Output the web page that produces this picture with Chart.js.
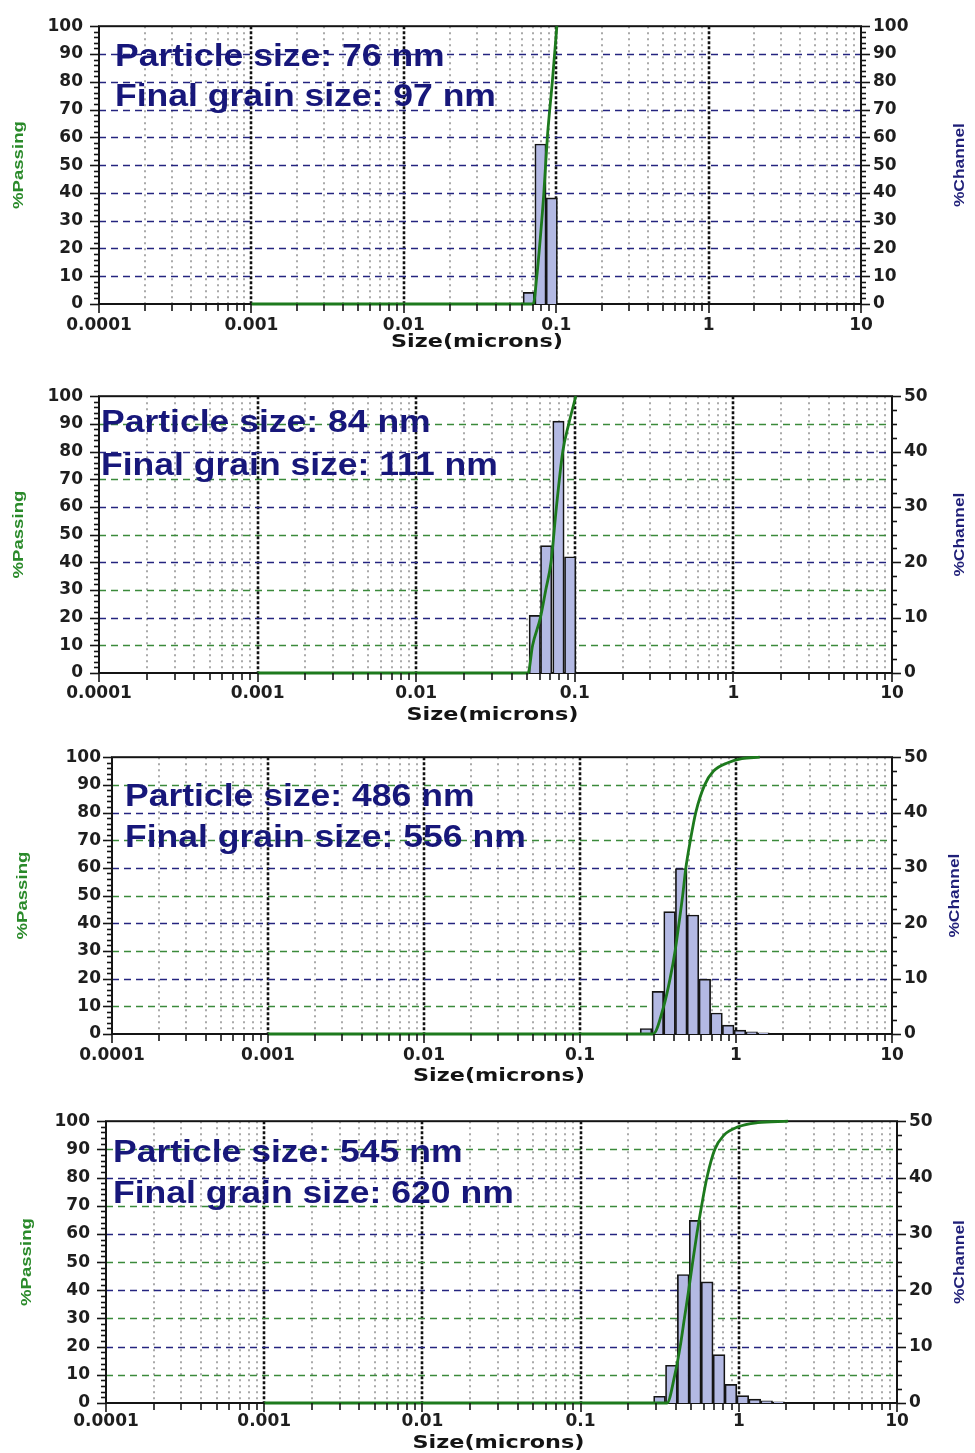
<!DOCTYPE html>
<html>
<head>
<meta charset="utf-8">
<script src="https://cdn.jsdelivr.net/npm/chart.js@4.4.1/dist/chart.umd.min.js"></script>
<style>
  html, body { margin: 0; padding: 0; background: #ffffff; }
  #page { position: relative; width: 975px; height: 1453px; overflow: hidden; background: #ffffff; }
  #page canvas { position: absolute; left: 0; }
</style>
</head>
<body>
<div id="page">
  <canvas id="psdA"></canvas>
  <canvas id="psdB"></canvas>
  <canvas id="psdC"></canvas>
  <canvas id="psdD"></canvas>
</div>
<script>
// ---- size axis (microns, log) ----
const sizeDecades = [0.0001, 0.001, 0.01, 0.1, 1, 10];
const sizeTickLabels = ['0.0001', '0.001', '0.01', '0.1', '1', '10'];

// ---- sample A ----
const chanTopA = [0.072, 0.086, 0.102];          // channel upper size, microns
const chanPctA = [4.2, 57.6, 38.2];              // % in channel
const passSizeA = [0.001, 0.0707, 0.0746, 0.079, 0.083, 0.0875, 0.0943, 0.101];
const passPctA  = [0, 0, 10, 25, 40, 60, 80, 100];
const notesA = ['Particle size: 76 nm', 'Final grain size: 97 nm'];

// ---- sample B ----
const chanTopB = [0.061, 0.072, 0.086, 0.102];
const chanPctB = [10.4, 23.0, 45.5, 21.0];
const passSizeB = [0.001, 0.0507, 0.0542, 0.0607, 0.0656, 0.0708, 0.0766, 0.084, 0.0916, 0.1015];
const passPctB  = [0, 0, 10, 20, 30, 40, 60, 80, 90, 100];
const notesB = ['Particle size: 84 nm', 'Final grain size: 111 nm'];

// ---- sample C ----
const chanTopC = [0.289, 0.344, 0.409, 0.486, 0.578, 0.688, 0.818, 0.972, 1.156, 1.375, 1.635];
const chanPctC = [1.0, 7.7, 22.1, 29.9, 21.5, 9.9, 3.8, 1.6, 0.7, 0.4, 0.2];
const passSizeC = [0.001, 0.294, 0.344, 0.378, 0.407, 0.431, 0.455, 0.477, 0.510, 0.552, 0.630, 0.718, 0.886, 1.09, 1.42];
const passPctC  = [0, 0, 10, 20, 30, 40, 50, 60, 70, 80, 90, 95, 98, 99.5, 100];
const notesC = ['Particle size: 486 nm', 'Final grain size: 556 nm'];

// ---- sample D ----
const chanTopD = [0.344, 0.409, 0.486, 0.578, 0.688, 0.818, 0.972, 1.156, 1.375, 1.635, 1.945];
const chanPctD = [1.2, 6.7, 22.8, 32.4, 21.5, 8.6, 3.3, 1.3, 0.7, 0.4, 0.2];
const passSizeD = [0.001, 0.352, 0.394, 0.426, 0.453, 0.482, 0.511, 0.543, 0.582, 0.629, 0.705, 0.804, 0.989, 1.318, 2.05];
const passPctD  = [0, 0, 10, 20, 30, 40, 50, 60, 70, 80, 90, 95, 98, 99.5, 100];
const notesD = ['Particle size: 545 nm', 'Final grain size: 620 nm'];

// Channels are spaced by a fourth root of two; a bar sits at the
// geometric middle of its channel.
const HALF_CHANNEL = Math.pow(2, 1 / 8);

const NAVY = '#24247f';
const GREEN_GRID = '#3b8a3b';
const GREEN_LINE = '#1d7a1d';
const INK = '#141414';

// page placement of each panel
const layouts = {
  psdA: { top: 0,    h: 362, l: 99,  r: 861, t: 20,   b: 304,  chMax: 100, rMinor: 2,   yPad: 16, xPad: 11,
          passX: 19, chanX: 960, sizeY: 343,  noteX: 115, noteY: [66, 106] },
  psdB: { top: 370,  h: 360, l: 99,  r: 892, t: 395,  b: 673,  chMax: 50,  rMinor: 2.5, yPad: 16, xPad: 10,
          passX: 19, chanX: 960, sizeY: 716,  noteX: 101, noteY: [432, 475] },
  psdC: { top: 735,  h: 355, l: 112, r: 892, t: 756,  b: 1034, chMax: 50,  rMinor: 2.5, yPad: 11, xPad: 11,
          passX: 23, chanX: 955, sizeY: 1077, noteX: 125, noteY: [806, 847] },
  psdD: { top: 1095, h: 358, l: 106, r: 897, t: 1121, b: 1403, chMax: 50,  rMinor: 2.5, yPad: 16, xPad: 8,
          passX: 27, chanX: 960, sizeY: 1444, noteX: 113, noteY: [1162, 1203] }
};

function line(ctx, x1, y1, x2, y2) {
  ctx.beginPath(); ctx.moveTo(x1, y1); ctx.lineTo(x2, y2); ctx.stroke();
}

// text squeezed/stretched to a given length, optionally turned upright
function fitText(ctx, str, cx, cy, font, color, length, angle) {
  ctx.save();
  ctx.font = font;
  ctx.fillStyle = color;
  ctx.textAlign = 'center';
  ctx.textBaseline = 'middle';
  const w = ctx.measureText(str).width;
  ctx.translate(cx, cy);
  if (angle) ctx.rotate(angle);
  ctx.scale(length / w, 1);
  ctx.fillText(str, 0, 0);
  ctx.restore();
}

const decor = {
  id: 'decor',
  beforeDatasetsDraw(chart, args, o) {
    const { ctx, chartArea: a } = chart;
    const x = chart.scales.x, yL = chart.scales.yL;
    ctx.save();
    ctx.beginPath();
    ctx.rect(a.left, a.top, a.width, a.height);
    ctx.clip();
    // vertical grid: dotted grey inside each decade, dotted black on decades
    for (let d = 0; d < sizeDecades.length - 1; d++) {
      ctx.strokeStyle = '#a9a9a9';
      ctx.lineWidth = 2;
      ctx.setLineDash([2, 4]);
      for (let k = 2; k <= 9; k++) {
        const px = Math.round(x.getPixelForValue(sizeDecades[d] * k));
        line(ctx, px, a.top, px, a.bottom);
      }
      if (d > 0) {
        ctx.strokeStyle = '#111111';
        ctx.lineWidth = 2.6;
        ctx.setLineDash([3, 2]);
        const px = Math.round(x.getPixelForValue(sizeDecades[d]));
        line(ctx, px, a.top, px, a.bottom);
      }
    }
    // horizontal grid: navy where the channel axis has a line, green otherwise
    ctx.lineWidth = 1.6;
    ctx.setLineDash([7, 5]);
    for (let v = 10; v < 100; v += 10) {
      const ch = v * o.chMax / 100;
      ctx.strokeStyle = Math.abs(ch / 10 - Math.round(ch / 10)) < 1e-9 ? NAVY : GREEN_GRID;
      const py = Math.round(yL.getPixelForValue(v)) + 0.5;
      line(ctx, a.left, py, a.right, py);
    }
    ctx.restore();

    // plot frame
    ctx.save();
    ctx.strokeStyle = INK;
    ctx.lineWidth = 2;
    ctx.strokeRect(a.left, a.top, a.width, a.height);
    ctx.restore();
  },
  afterDraw(chart, args, o) {
    const { ctx, chartArea: a } = chart;
    const x = chart.scales.x, yL = chart.scales.yL, yR = chart.scales.yR;
    ctx.save();
    ctx.strokeStyle = INK;
    ctx.lineWidth = 1.6;
    ctx.setLineDash([]);
    // size axis tick marks
    for (let d = 0; d < sizeDecades.length - 1; d++) {
      for (let k = 1; k <= 9; k++) {
        const px = Math.round(x.getPixelForValue(sizeDecades[d] * k));
        line(ctx, px, a.bottom, px, a.bottom + (k === 1 ? 9 : 7));
      }
    }
    const pxEnd = Math.round(x.getPixelForValue(sizeDecades[sizeDecades.length - 1]));
    line(ctx, pxEnd, a.bottom, pxEnd, a.bottom + 9);
    // %Passing tick marks
    for (let v = 0; v <= 100; v += 2) {
      const py = Math.round(yL.getPixelForValue(v)) + 0.5;
      line(ctx, a.left, py, a.left - (v % 10 === 0 ? 9 : 5), py);
    }
    // %Channel tick marks
    for (let i = 0; i <= Math.round(o.chMax / o.rMinor); i++) {
      const v = i * o.rMinor;
      const py = Math.round(yR.getPixelForValue(v)) + 0.5;
      const major = Math.abs(v / 10 - Math.round(v / 10)) < 1e-9;
      line(ctx, a.right, py, a.right + (major ? 9 : 5), py);
    }
    ctx.restore();

    const top = o.top;
    const midY = (a.top + a.bottom) / 2;
    fitText(ctx, '%Passing', o.passX, midY, 'bold 15px "Liberation Sans", Arial, sans-serif', '#2a8a2a', 88, -Math.PI / 2);
    fitText(ctx, '%Channel', o.chanX, midY, 'bold 15px "Liberation Sans", Arial, sans-serif', '#1f1f78', 84, -Math.PI / 2);
    fitText(ctx, 'Size(microns)', (a.left + a.right) / 2 - 3, o.sizeY - top, 'bold 17px "DejaVu Sans", sans-serif', INK, 172, 0);

    // sample notes
    ctx.save();
    ctx.font = 'bold 32px "Liberation Sans", Arial, sans-serif';
    ctx.fillStyle = '#17177a';
    ctx.textAlign = 'left';
    ctx.textBaseline = 'alphabetic';
    o.notes.forEach((str, i) => {
      ctx.save();
      ctx.translate(o.noteX, o.noteY[i] - top);
      ctx.scale(1.11, 1);
      ctx.fillText(str, 0, 0);
      ctx.restore();
    });
    ctx.restore();
  }
};

Chart.register(decor);
Chart.defaults.font.family = '"DejaVu Sans", sans-serif';

const tickFont = { family: '"DejaVu Sans"', size: 17, weight: 'bold' };

function makePanel(id, chanTop, chanPct, passSize, passPct, notes) {
  const L = Object.assign({ notes }, layouts[id]);
  const canvas = document.getElementById(id);
  canvas.width = 975;
  canvas.height = L.h;
  canvas.style.top = L.top + 'px';
  canvas.style.width = '975px';
  canvas.style.height = L.h + 'px';

  return new Chart(canvas, {
    type: 'bar',
    data: {
      datasets: [
        {
          type: 'line',
          label: '%Passing',
          yAxisID: 'yL',
          order: 1,
          data: passSize.map((s, i) => ({ x: s, y: passPct[i] })),
          borderColor: GREEN_LINE,
          borderWidth: 2.8,
          pointRadius: 0,
          cubicInterpolationMode: 'monotone',
          clip: false
        },
        {
          type: 'bar',
          label: '%Channel',
          yAxisID: 'yR',
          order: 2,
          data: chanTop.map((s, i) => ({ x: s / HALF_CHANNEL, y: chanPct[i] })),
          backgroundColor: '#b3b9e3',
          borderColor: '#151515',
          borderWidth: 1.7,
          barPercentage: 1,
          categoryPercentage: 1
        }
      ]
    },
    options: {
      responsive: false,
      animation: false,
      devicePixelRatio: 1,
      layout: { padding: { top: L.t - L.top, bottom: 0, left: 0, right: 0 } },
      plugins: {
        legend: { display: false },
        tooltip: { enabled: false },
        decor: L
      },
      scales: {
        x: {
          type: 'logarithmic',
          min: sizeDecades[0],
          max: sizeDecades[sizeDecades.length - 1],
          offset: false,
          grid: { display: false, drawTicks: false },
          border: { display: false },
          afterBuildTicks: s => { s.ticks = sizeDecades.map(v => ({ value: v })); },
          afterFit: s => { s.height = L.top + L.h - L.b; },
          ticks: {
            padding: L.xPad,
            autoSkip: false,
            maxRotation: 0,
            color: '#1e1e1e',
            font: tickFont,
            callback: v => sizeTickLabels[sizeDecades.indexOf(v)]
          }
        },
        yL: {
          position: 'left',
          min: 0,
          max: 100,
          grid: { display: false, drawTicks: false },
          border: { display: false },
          afterFit: s => { s.width = L.l; },
          ticks: { stepSize: 10, padding: L.yPad, color: '#1e1e1e', font: tickFont }
        },
        yR: {
          position: 'right',
          min: 0,
          max: L.chMax,
          grid: { display: false, drawTicks: false },
          border: { display: false },
          afterFit: s => { s.width = 975 - L.r; },
          ticks: { stepSize: 10, padding: 12, color: '#1e1e1e', font: tickFont }
        }
      }
    }
  });
}

makePanel('psdA', chanTopA, chanPctA, passSizeA, passPctA, notesA);
makePanel('psdB', chanTopB, chanPctB, passSizeB, passPctB, notesB);
makePanel('psdC', chanTopC, chanPctC, passSizeC, passPctC, notesC);
makePanel('psdD', chanTopD, chanPctD, passSizeD, passPctD, notesD);
</script>
</body>
</html>
